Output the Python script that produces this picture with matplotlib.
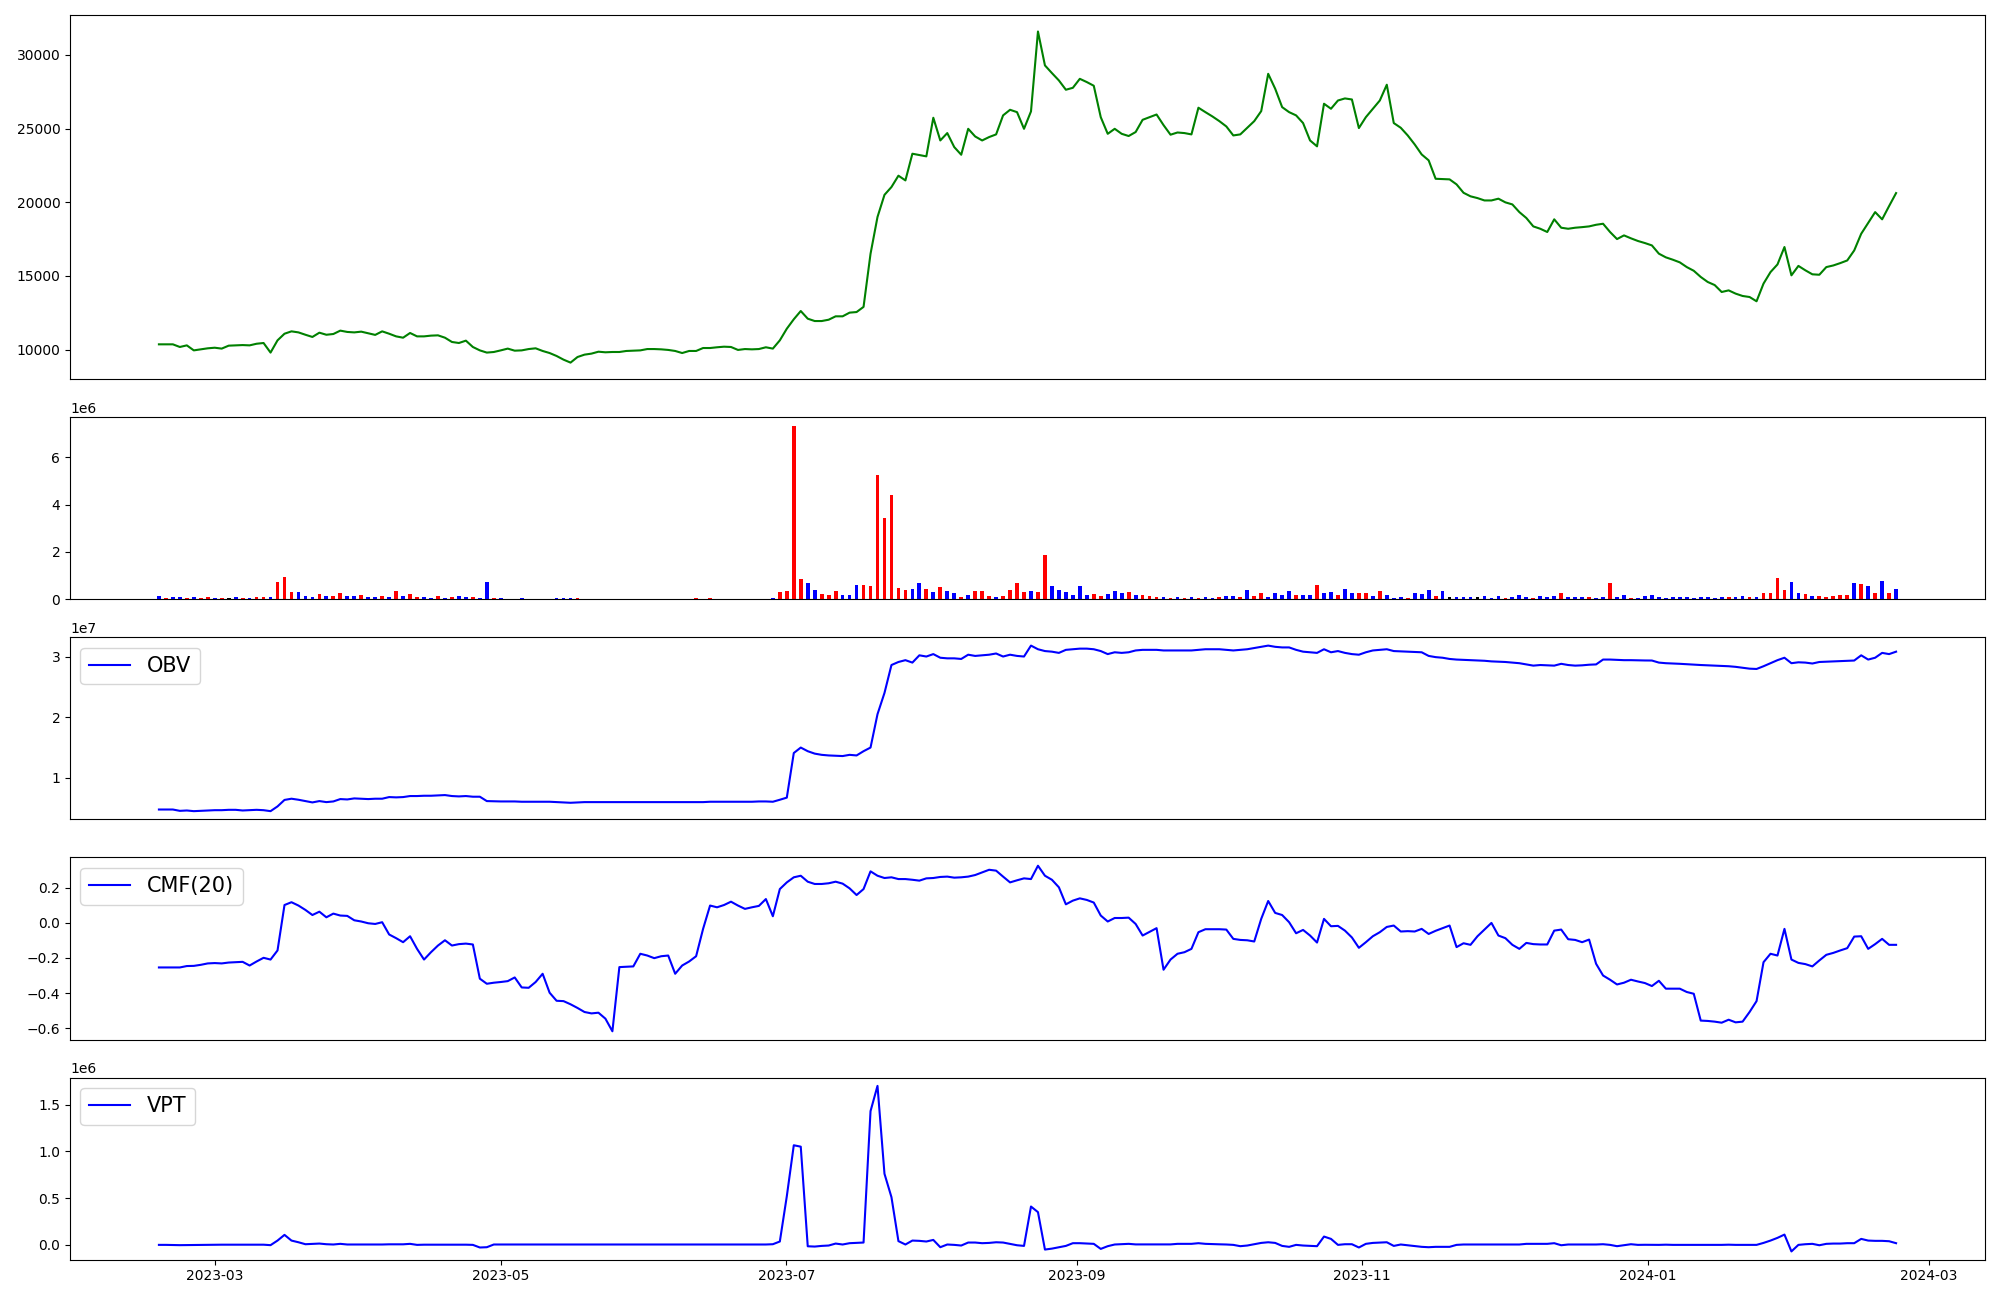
import matplotlib
matplotlib.use("Agg")
import matplotlib.pyplot as plt
import pandas as pd

START_DATE = "2023-02-17"
END_DATE = "2024-02-23"
N_POINTS = 250

price = [
10360,10360,10360,10180,10290,9950,10020,10090,10130,10070,
10270,10290,10310,10290,10400,10450,9800,10630,11080,11240,
11170,11010,10860,11150,11010,11060,11290,11200,11170,11220,
11110,11000,11240,11080,10900,10810,11130,10900,10900,10950,
10970,10810,10520,10450,10610,10180,9950,9800,9840,9950,
10070,9930,9950,10040,10090,9910,9770,9570,9320,9120,
9500,9660,9730,9860,9820,9840,9840,9910,9930,9950,
10040,10040,10020,9980,9910,9770,9910,9910,10110,10110,
10160,10200,10180,9980,10040,10020,10040,10160,10070,10630,
11420,12060,12620,12100,11940,11940,12030,12260,12260,12510,
12550,12900,16500,19000,20500,21030,21800,21480,23290,23200,
23110,25730,24190,24690,23740,23220,24980,24460,24190,24420,
24600,25890,26270,26110,24980,26160,31580,29280,28760,28260,
27630,27760,28370,28150,27900,25770,24640,24980,24640,24490,
24760,25590,25770,25950,25230,24580,24730,24690,24600,26410,
26110,25820,25500,25140,24530,24600,25050,25500,26180,28710,
27700,26450,26110,25890,25370,24190,23790,26680,26340,26900,
27040,26970,25030,25770,26340,26900,27970,25370,25050,24530,
23920,23240,22840,21590,21570,21550,21210,20640,20400,20280,
20120,20120,20240,19990,19850,19330,18930,18360,18200,17980,
18840,18270,18200,18270,18310,18360,18470,18540,17980,17500,
17750,17550,17370,17230,17070,16510,16260,16100,15920,15600,
15350,14930,14590,14380,13910,14020,13800,13640,13570,13280,
14480,15260,15780,16960,15040,15680,15380,15110,15080,15600,
15710,15870,16050,16730,17860,18590,19330,18840,19740,20620,
]

# volume in millions of shares
volume_m = [
0.14,0.06,0.10,0.10,0.06,0.10,0.06,0.10,0.06,0.06,
0.06,0.10,0.06,0.06,0.10,0.10,0.10,0.74,0.95,0.31,
0.31,0.14,0.10,0.23,0.14,0.14,0.27,0.14,0.14,0.18,
0.10,0.10,0.14,0.10,0.35,0.14,0.23,0.10,0.10,0.06,
0.14,0.06,0.10,0.14,0.10,0.10,0.06,0.74,0.06,0.06,
0.00,0.00,0.06,0.00,0.00,0.00,0.00,0.06,0.06,0.06,
0.06,0.00,0.00,0.00,0.00,0.00,0.00,0.00,0.00,0.00,
0.00,0.00,0.00,0.00,0.00,0.00,0.00,0.06,0.00,0.06,
0.00,0.00,0.00,0.00,0.00,0.00,0.00,0.00,0.06,0.31,
0.35,7.33,0.87,0.70,0.40,0.23,0.18,0.35,0.18,0.18,
0.61,0.61,0.57,5.25,3.42,4.40,0.48,0.40,0.44,0.70,
0.44,0.31,0.52,0.35,0.27,0.10,0.18,0.35,0.35,0.14,
0.10,0.14,0.40,0.70,0.31,0.35,0.31,1.89,0.57,0.40,
0.31,0.18,0.57,0.18,0.23,0.14,0.23,0.35,0.27,0.31,
0.18,0.18,0.14,0.10,0.10,0.06,0.10,0.06,0.10,0.06,
0.10,0.06,0.10,0.14,0.14,0.10,0.40,0.14,0.27,0.10,
0.27,0.18,0.35,0.18,0.18,0.18,0.61,0.27,0.31,0.18,
0.44,0.27,0.27,0.27,0.14,0.35,0.18,0.06,0.10,0.06,
0.27,0.23,0.40,0.14,0.35,0.10,0.10,0.10,0.10,0.10,
0.14,0.06,0.14,0.06,0.10,0.18,0.10,0.06,0.14,0.10,
0.14,0.27,0.10,0.10,0.10,0.10,0.06,0.10,0.70,0.10,
0.18,0.06,0.06,0.14,0.18,0.10,0.06,0.10,0.10,0.10,
0.06,0.10,0.10,0.06,0.10,0.10,0.10,0.14,0.10,0.10,
0.27,0.27,0.91,0.40,0.74,0.27,0.23,0.14,0.14,0.10,
0.14,0.18,0.18,0.70,0.65,0.57,0.27,0.78,0.27,0.44,
]

# r = up day, b = down day, k = unchanged
volume_dir = (
"brbbrbrrbr" "kbrbrrbrrr" "bbbrbrrbbr" "bbrbrbrrbb" "rbrbbrbbrb"
"kkbkkkkbbb" "rkkkkkkkkk" "kkkkkkkrkr" "kkkkkkkkbr" "rrrbbrrrbb"
"brrrrrrrbb" "rbrbbrbrrr" "brrrrbrrbb" "bbbbrrbbbr" "brrrbrbrbr"
"bbrbbrbrrb" "bbbrbbrbbr" "bbrrbrbbbr" "bbbrbkbbbk" "bbbrbbbrbb"
"brbbbrbbrb" "brbbbbbbbb" "bbbbbrbbrb" "rrrrbbrbrr" "rrrbrbrbrb"
)

# OBV in units of 1e7
obv_e7 = [
0.479,0.479,0.479,0.457,0.463,0.452,0.457,0.463,0.468,0.468,
0.474,0.474,0.463,0.468,0.474,0.468,0.452,0.530,0.637,0.657,
0.640,0.618,0.596,0.618,0.601,0.612,0.651,0.645,0.662,0.657,
0.651,0.657,0.657,0.684,0.679,0.684,0.701,0.701,0.706,0.706,
0.712,0.717,0.701,0.695,0.701,0.690,0.690,0.618,0.615,0.612,
0.612,0.612,0.607,0.607,0.607,0.607,0.607,0.601,0.596,0.590,
0.596,0.601,0.601,0.601,0.601,0.601,0.601,0.601,0.601,0.601,
0.601,0.601,0.601,0.601,0.601,0.601,0.601,0.601,0.601,0.607,
0.607,0.607,0.607,0.607,0.607,0.607,0.612,0.612,0.607,0.640,
0.675,1.410,1.500,1.440,1.400,1.380,1.370,1.365,1.360,1.380,
1.370,1.440,1.500,2.050,2.400,2.860,2.910,2.940,2.900,3.020,
3.000,3.040,2.980,2.970,2.970,2.960,3.030,3.010,3.020,3.030,
3.050,3.000,3.030,3.010,3.000,3.180,3.120,3.090,3.080,3.060,
3.110,3.120,3.130,3.130,3.120,3.090,3.040,3.070,3.060,3.070,
3.100,3.110,3.110,3.110,3.100,3.100,3.100,3.100,3.100,3.110,
3.120,3.120,3.120,3.110,3.100,3.110,3.120,3.140,3.160,3.180,
3.160,3.150,3.150,3.110,3.080,3.070,3.060,3.120,3.070,3.090,
3.060,3.040,3.030,3.070,3.100,3.110,3.120,3.090,3.085,3.080,
3.075,3.070,3.010,2.990,2.980,2.960,2.950,2.945,2.940,2.935,
2.930,2.920,2.915,2.910,2.900,2.890,2.870,2.850,2.860,2.855,
2.850,2.880,2.860,2.850,2.855,2.865,2.870,2.950,2.950,2.945,
2.940,2.940,2.937,2.935,2.934,2.900,2.890,2.885,2.880,2.873,
2.865,2.860,2.855,2.850,2.845,2.840,2.830,2.815,2.800,2.795,
2.840,2.890,2.940,2.980,2.890,2.905,2.900,2.885,2.910,2.915,
2.920,2.925,2.930,2.934,3.020,2.950,2.980,3.060,3.040,3.080,
]

cmf20 = [
-0.254,-0.254,-0.254,-0.254,-0.246,-0.245,-0.239,-0.231,-0.229,-0.231,
-0.226,-0.224,-0.222,-0.243,-0.220,-0.199,-0.209,-0.157,0.102,0.118,
0.099,0.074,0.045,0.064,0.032,0.053,0.042,0.040,0.015,0.008,
-0.002,-0.006,0.004,-0.066,-0.087,-0.110,-0.076,-0.148,-0.209,-0.167,
-0.129,-0.099,-0.129,-0.121,-0.118,-0.123,-0.318,-0.347,-0.341,-0.337,
-0.332,-0.311,-0.368,-0.370,-0.337,-0.290,-0.398,-0.444,-0.446,-0.464,
-0.485,-0.508,-0.516,-0.512,-0.546,-0.618,-0.252,-0.250,-0.248,-0.176,
-0.186,-0.201,-0.190,-0.186,-0.290,-0.243,-0.220,-0.190,-0.034,0.099,
0.089,0.102,0.121,0.099,0.080,0.089,0.097,0.136,0.038,0.193,
0.231,0.260,0.269,0.235,0.222,0.222,0.226,0.235,0.224,0.197,
0.159,0.193,0.294,0.269,0.256,0.260,0.250,0.250,0.246,0.241,
0.254,0.256,0.262,0.264,0.258,0.260,0.264,0.273,0.288,0.303,
0.298,0.264,0.231,0.243,0.254,0.250,0.326,0.269,0.246,0.203,
0.106,0.127,0.140,0.131,0.116,0.042,0.008,0.028,0.028,0.030,
-0.006,-0.072,-0.051,-0.030,-0.267,-0.209,-0.176,-0.167,-0.148,-0.053,
-0.036,-0.036,-0.036,-0.038,-0.091,-0.097,-0.099,-0.106,0.023,0.125,
0.057,0.045,0.004,-0.059,-0.040,-0.072,-0.112,0.023,-0.019,-0.017,
-0.044,-0.083,-0.142,-0.110,-0.076,-0.053,-0.023,-0.015,-0.049,-0.047,
-0.049,-0.034,-0.063,-0.045,-0.030,-0.015,-0.138,-0.116,-0.125,-0.076,
-0.038,0.000,-0.072,-0.087,-0.125,-0.148,-0.114,-0.121,-0.123,-0.123,
-0.044,-0.038,-0.093,-0.097,-0.110,-0.095,-0.233,-0.300,-0.324,-0.351,
-0.341,-0.324,-0.334,-0.343,-0.360,-0.330,-0.375,-0.375,-0.375,-0.394,
-0.404,-0.557,-0.559,-0.563,-0.569,-0.552,-0.567,-0.563,-0.508,-0.446,
-0.224,-0.176,-0.186,-0.034,-0.209,-0.228,-0.235,-0.248,-0.214,-0.182,
-0.171,-0.157,-0.144,-0.078,-0.076,-0.148,-0.121,-0.091,-0.125,-0.125,
]

# VPT in units of 1e6
vpt_e6 = [
0.000,0.000,-0.002,-0.003,-0.002,0.000,0.000,0.002,0.002,0.002,
0.002,0.002,0.002,0.002,0.002,0.002,-0.003,0.046,0.107,0.046,
0.028,0.007,0.011,0.014,0.007,0.004,0.011,0.004,0.004,0.004,
0.004,0.004,0.004,0.006,0.006,0.006,0.011,0.000,0.002,0.002,
0.002,0.002,0.002,0.002,0.002,0.000,-0.028,-0.025,0.004,0.004,
0.004,0.004,0.004,0.004,0.004,0.004,0.004,0.003,0.003,0.003,
0.004,0.004,0.004,0.004,0.004,0.004,0.004,0.004,0.004,0.004,
0.004,0.004,0.004,0.004,0.004,0.004,0.004,0.004,0.004,0.004,
0.004,0.004,0.004,0.004,0.004,0.004,0.004,0.004,0.007,0.036,
0.520,1.065,1.050,-0.015,-0.018,-0.011,-0.007,0.014,0.004,0.018,
0.021,0.025,1.430,1.700,0.760,0.510,0.040,0.004,0.046,0.043,
0.036,0.053,-0.025,0.004,0.000,-0.007,0.025,0.025,0.018,0.021,
0.028,0.025,0.011,-0.004,-0.011,0.410,0.350,-0.050,-0.040,-0.025,
-0.011,0.018,0.018,0.014,0.011,-0.043,-0.014,0.004,0.007,0.011,
0.005,0.005,0.005,0.005,0.005,0.005,0.011,0.011,0.011,0.018,
0.011,0.008,0.006,0.004,0.000,-0.014,-0.007,0.007,0.021,0.028,
0.021,-0.011,-0.021,0.000,-0.007,-0.011,-0.014,0.089,0.064,0.000,
0.007,0.007,-0.028,0.011,0.021,0.025,0.028,-0.011,0.004,-0.004,
-0.011,-0.021,-0.025,-0.021,-0.021,-0.021,0.000,0.004,0.004,0.004,
0.004,0.004,0.004,0.004,0.004,0.004,0.011,0.011,0.011,0.011,
0.018,-0.004,0.004,0.004,0.004,0.004,0.004,0.007,0.000,-0.014,
-0.004,0.007,0.000,0.001,0.000,0.000,0.002,0.000,0.000,0.001,
0.000,0.000,0.001,0.000,0.000,0.002,0.000,0.000,0.000,0.000,
0.021,0.046,0.075,0.110,-0.070,0.000,0.007,0.011,-0.004,0.011,
0.014,0.014,0.018,0.018,0.064,0.046,0.043,0.043,0.039,0.018,
]

dates = pd.date_range(START_DATE, END_DATE, periods=N_POINTS)
color_map = {"r": "red", "b": "blue", "k": "black"}
bar_colors = [color_map[c] for c in volume_dir]

fig, axes = plt.subplots(
    5, 1, figsize=(20, 13), dpi=100, sharex=True,
    gridspec_kw={"height_ratios": [2, 1, 1, 1, 1]},
)
fig.subplots_adjust(left=0.035, right=0.9925, top=0.9885, bottom=0.031, hspace=0.174)

ax_p, ax_v, ax_o, ax_c, ax_t = axes

ax_p.plot(dates, price, color="green")

ax_v.bar(dates, [v * 1e6 for v in volume_m], color=bar_colors, width=0.8)

ax_o.plot(dates, [v * 1e7 for v in obv_e7], color="blue", label="OBV")
ax_o.legend(loc="upper left", fontsize=15)

ax_c.plot(dates, cmf20, color="blue", label="CMF(20)")
ax_c.legend(loc="upper left", fontsize=15)

ax_t.plot(dates, [v * 1e6 for v in vpt_e6], color="blue", label="VPT")
ax_t.legend(loc="upper left", fontsize=15)

for ax in axes[:4]:
    ax.tick_params(axis="x", which="both", bottom=False, labelbottom=False)

fig.savefig("out.png", dpi=100)
